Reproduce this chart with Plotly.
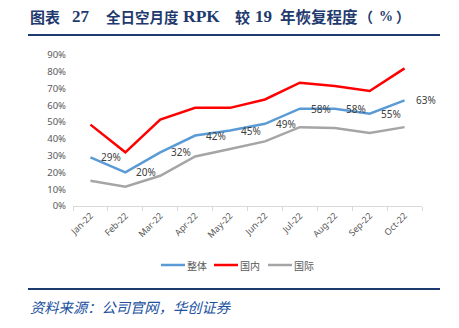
import plotly.graph_objects as go

# Monthly RPK recovery vs 2019 (%)
months = ["Jan-22", "Feb-22", "Mar-22", "Apr-22", "May-22", "Jun-22",
          "Jul-22", "Aug-22", "Sep-22", "Oct-22"]
overall = [29, 20, 32, 42, 45, 49, 58, 58, 55, 63]
domestic = [48.5, 32, 51.5, 58.5, 58.5, 63.5, 73.5, 71.5, 68.5, 82]
international = [15, 11.5, 18, 29.5, 34, 38.5, 47, 46.5, 43.5, 47]

series_names = ["整体", "国内", "国际"]
series_colors = ["#5B9BD5", "#FF0000", "#A5A5A5"]
y_ticks = [0, 10, 20, 30, 40, 50, 60, 70, 80, 90]

W, H = 459, 328
L, R, T, B = 73, 37, 55, 122
plot_w = W - L - R
plot_h = H - T - B


def px_x(px):
    return (px - L) / plot_w


def px_y(py):
    return (H - B - py) / plot_h


fig = go.Figure()
for name, color, values in zip(series_names, series_colors,
                               [overall, domestic, international]):
    fig.add_trace(go.Scatter(
        x=months, y=values, name=name, mode="lines",
        line=dict(color=color, width=2.5), showlegend=False,
    ))

navy = "#1F3A6E"

# value labels for the overall series, to the right of each point
value_labels = [
    dict(x=m, y=v, text=f"{v}%", xref="x", yref="y", showarrow=False,
         xanchor="left", yanchor="middle", xshift=9,
         font=dict(family="Noto Sans", size=10, color="#404040"))
    for m, v in zip(months, overall)
]

# title pieces: CJK in sans bold, Latin in serif bold
cjk = "Noto Sans CJK SC"
serif = "Liberation Serif"
title_parts = [
    ("图表", 28, cjk, 15), ("27", 70, serif, 17),
    ("全日空月度", 104, cjk, 14.5), ("RPK", 181, serif, 17.5),
    ("较", 233, cjk, 15), ("19", 253, serif, 17),
    ("年恢复程度", 278, cjk, 15.5), ("（", 357, cjk, 14),
    ("%", 377, serif, 14), ("）", 394, cjk, 14),
]
title_annotations = [
    dict(text=f"<b>{t}</b>", xref="paper", yref="paper", x=px_x(x0),
         y=px_y(16), xanchor="left", yanchor="middle", showarrow=False,
         font=dict(family=fam, size=sz, color=navy))
    for t, x0, fam, sz in title_parts
]

# legend row drawn below the axis
legend_x = [161, 214, 268]
legend_y = 265
legend_shapes = [
    dict(type="line", xref="paper", yref="paper",
         x0=px_x(x0), x1=px_x(x0 + 24), y0=px_y(legend_y), y1=px_y(legend_y),
         line=dict(color=c, width=2.5))
    for x0, c in zip(legend_x, series_colors)
]
legend_texts = [
    dict(text=n, xref="paper", yref="paper", x=px_x(x0 + 24), y=px_y(legend_y),
         xanchor="left", yanchor="middle", showarrow=False,
         font=dict(family=cjk, size=10, color="#595959"))
    for x0, n in zip(legend_x, series_names)
]

fig.update_layout(
    width=W, height=H,
    margin=dict(l=L, r=R, t=T, b=B, autoexpand=False),
    paper_bgcolor="white", plot_bgcolor="white",
    showlegend=False,
    xaxis=dict(
        type="category", range=[-0.5, len(months) - 0.5],
        showgrid=False, showline=True, linecolor="#D9D9D9",
        linewidth=1, ticks="outside", tickson="boundaries", ticklen=4,
        tickcolor="#D9D9D9", tickangle=-45,
        tickfont=dict(family="Noto Sans", size=9, color="#595959"),
    ),
    yaxis=dict(
        range=[0, 90], tickvals=y_ticks, ticktext=[f"{v}%" for v in y_ticks],
        showgrid=False, zeroline=False, showline=False,
        tickfont=dict(family="Noto Sans", size=9.5, color="#595959"),
        ticklabelstandoff=6,
    ),
    shapes=[
        dict(type="line", xref="paper", yref="paper",
             x0=px_x(28), x1=px_x(440), y0=px_y(35), y1=px_y(35),
             line=dict(color=navy, width=2)),
        dict(type="line", xref="paper", yref="paper",
             x0=px_x(28), x1=px_x(440), y0=px_y(289), y1=px_y(289),
             line=dict(color=navy, width=2)),
    ] + legend_shapes,
    annotations=value_labels + title_annotations + legend_texts + [
        dict(text="<i>资料来源：公司官网，华创证券</i>",
             xref="paper", yref="paper", x=px_x(28), y=px_y(306),
             xanchor="left", yanchor="middle", showarrow=False,
             font=dict(family=cjk, size=14.3, color="#2050A0")),
    ],
)

fig.write_html("out.html")
